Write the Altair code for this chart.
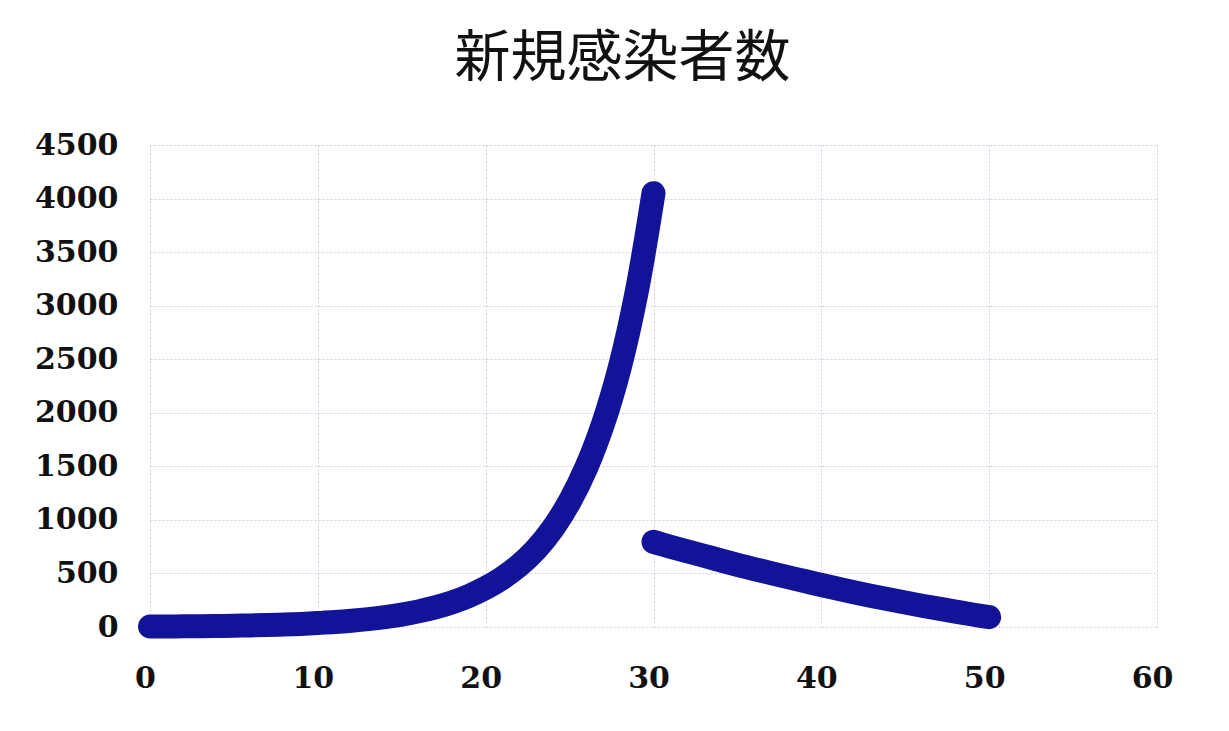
import altair as alt
import pandas as pd

title_text = "新規感染者数"

days_rise = list(range(0, 31))
cases_rise = [4, 5, 6, 7, 9, 12, 15, 18, 23, 29, 37, 46, 58, 73, 92, 116,
              146, 183, 230, 290, 365, 458, 575, 725, 920, 1170, 1490, 1900,
              2430, 3130, 4050]

days_fall = list(range(30, 51))
cases_fall = [795, 750, 707, 665, 622, 580, 541, 503, 466, 429, 392, 357, 323,
              290, 258, 228, 199, 171, 144, 117, 92]

x_ticks = [0, 10, 20, 30, 40, 50, 60]
y_ticks = [0, 500, 1000, 1500, 2000, 2500, 3000, 3500, 4000, 4500]

df = pd.concat([
    pd.DataFrame({"day": days_rise, "cases": cases_rise, "seg": "rise"}),
    pd.DataFrame({"day": days_fall, "cases": cases_fall, "seg": "fall"}),
], ignore_index=True)

grid_color = "#d6cde2"

chart = alt.Chart(df).mark_line(
    color="#13139a", strokeWidth=24, strokeCap="round", strokeJoin="round",
    interpolate="catmull-rom"
).encode(
    x=alt.X("day:Q", scale=alt.Scale(domain=[0, 60], nice=False),
            axis=alt.Axis(values=x_ticks, title=None, domain=False, ticks=False,
                          format="d", labelPadding=36, labelFlush=False,
                          labelOffset=-5, grid=True,
                          gridColor=grid_color, gridDash=[2, 2], gridWidth=1,
                          labelFont="DejaVu Serif", labelFontSize=30,
                          labelFontWeight="bold", labelColor="#111111")),
    y=alt.Y("cases:Q", scale=alt.Scale(domain=[0, 4500], nice=False),
            axis=alt.Axis(values=y_ticks, title=None, domain=False, ticks=False,
                          format="d", labelPadding=32, grid=True,
                          gridColor=grid_color, gridDash=[2, 2], gridWidth=1,
                          labelFont="DejaVu Serif", labelFontSize=30,
                          labelFontWeight="bold", labelColor="#111111")),
    detail="seg:N",
).properties(
    width=1007, height=482,
    background="white",
    autosize=alt.AutoSizeParams(type="none"),
    padding={"left": 142, "top": 137, "right": 64, "bottom": 96},
    title=alt.TitleParams(text=title_text, font="Noto Sans CJK JP", fontSize=56,
                          fontWeight="normal", color="#111111", anchor="middle",
                          dx=-31, offset=-2, baseline="alphabetic", frame="group"),
).configure_view(stroke=None)

chart.save("out.html", embed_options={"renderer": "svg", "actions": False})
